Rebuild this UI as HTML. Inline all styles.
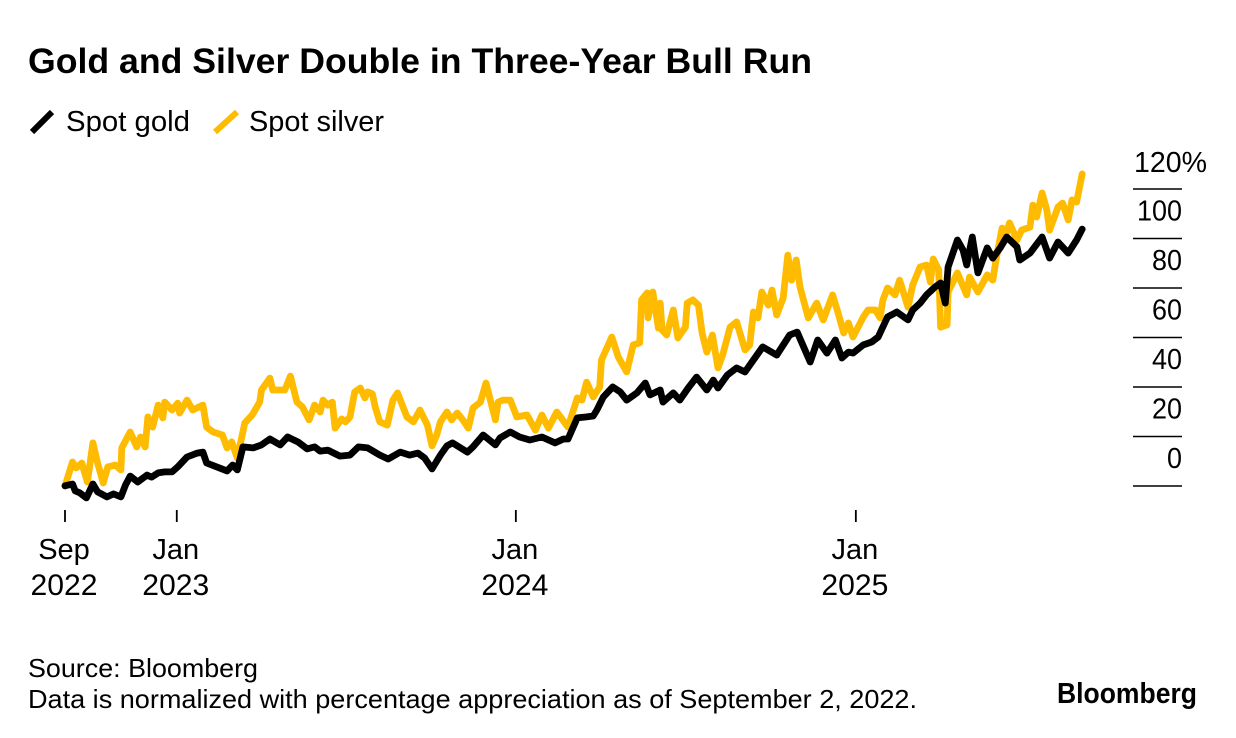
<!DOCTYPE html>
<html lang="en">
<head>
<meta charset="utf-8">
<title>Gold and Silver Double in Three-Year Bull Run</title>
<style>
html,body{margin:0;padding:0;background:#fff}
svg{display:block}
text{font-family:"Liberation Sans",sans-serif;fill:#000}
</style>
</head>
<body>
<svg id="chart" xmlns="http://www.w3.org/2000/svg" width="1236" height="738" viewBox="0 0 1236 738">
<text x="28" y="73" font-size="35" font-weight="700" textLength="784" lengthAdjust="spacingAndGlyphs">Gold and Silver Double in Three-Year Bull Run</text>
<g>
<line x1="32" y1="132" x2="52" y2="112" stroke="#000" stroke-width="6"/>
<text x="66" y="131" font-size="28.5" textLength="124" lengthAdjust="spacingAndGlyphs">Spot gold</text>
<line x1="215" y1="132" x2="237" y2="112" stroke="#ffbb00" stroke-width="6"/>
<text x="249" y="131" font-size="28.5" textLength="135" lengthAdjust="spacingAndGlyphs">Spot silver</text>
</g>
<g id="y-axis"></g>
<g id="x-axis"></g>
<g id="series"></g>
<text x="28" y="677" font-size="26" textLength="230" lengthAdjust="spacingAndGlyphs">Source: Bloomberg</text>
<text x="28" y="708" font-size="26" textLength="889" lengthAdjust="spacingAndGlyphs">Data is normalized with percentage appreciation as of September 2, 2022.</text>
<text x="1057" y="703" font-size="29" font-weight="700" textLength="140" lengthAdjust="spacingAndGlyphs">Bloomberg</text>
</svg>
<script>
const yTickValues = [0, 20, 40, 60, 80, 100, 120];
const yTickLabels = ['0', '20', '40', '60', '80', '100', '120%'];
const xTickDays = [0, 120, 484, 849];
const xTickMonths = ['Sep', 'Jan', 'Jan', 'Jan'];
const xTickYears = ['2022', '2023', '2024', '2025'];

const silverDays = [0,8,12,18,24,30,35,41,46,54,60,61,70,77,81,86,89,94,100,105,107,115,121,123,131,137,148,152,159,169,174,179,185,193,201,209,211,220,223,236,242,249,255,262,268,274,277,282,287,290,297,301,306,311,317,322,325,330,333,338,346,352,357,367,374,381,389,394,399,403,410,415,421,427,433,438,446,452,462,465,470,478,485,496,505,512,519,528,540,550,555,560,567,574,576,587,594,603,610,617,619,625,626,631,637,639,641,646,653,658,666,668,674,680,684,689,695,701,706,714,721,730,735,739,744,748,755,759,764,771,776,780,785,789,798,807,814,824,830,836,841,846,857,862,870,875,878,883,891,896,905,910,918,925,929,932,938,940,947,948,958,968,971,980,990,996,1000,1006,1009,1014,1022,1027,1036,1039,1043,1049,1054,1057,1066,1071,1077,1081,1086,1092];
const silverValues = [0,9.7,7.3,9.3,1.6,17.4,9.3,1.2,7.7,8.5,6.5,15.4,21.8,15.8,19.8,15.8,27.9,23.8,32.7,27.5,33.9,30.7,33.5,29.5,34.7,30.7,32.7,23.8,21.8,20.6,15.4,17.8,11.3,25.5,28.7,33.9,38.8,43.6,38.8,38.8,44.4,33.9,31.9,26.7,32.7,29.9,34.7,32.7,33.9,23.4,27.1,25.9,27.9,38,39.6,35.6,38,37.2,31.9,25.9,24.6,34.7,37.6,27.9,25.9,30.7,24.6,16.2,20.6,25.9,29.9,26.7,29.5,26.7,23.4,31.5,33.9,41.6,26.7,33.9,34.7,34.7,27.9,28.7,22.6,28.7,23.4,29.9,23.8,35.6,34.7,42,36,40,50.9,60.2,52.1,46.1,57,57.8,75.2,78,67.9,78.4,63.8,73.9,63,61,71.1,59.8,64.2,73.9,75.2,73.1,61.8,54.1,61,47.7,52.9,64.2,66.3,55,57,70.3,67.9,78.4,73.1,79.2,69.1,76,93.3,83.2,91.3,80.4,67.9,73.9,67.1,77.2,69.9,61.8,65.9,60.2,68.3,71.1,71.1,67.9,75.2,80,77.2,83.2,72.3,81.2,88.5,89.3,82.4,91.7,87.3,64.2,65.1,78.4,86.1,77.2,84.4,78.4,85.3,83.2,92.5,104.2,100.2,106.3,99.4,103.4,104.6,113.5,108.7,118.4,111.5,103.4,112.7,114.3,107.5,115.6,114.7,126.1];

const goldDays = [0,8,11,16,23,30,35,45,52,60,65,70,78,88,93,100,107,115,121,131,142,148,152,163,174,180,185,191,202,211,220,231,239,250,260,268,274,282,295,306,315,325,338,347,360,370,379,386,394,403,410,416,432,438,449,462,467,478,488,499,512,526,535,540,550,560,567,571,578,588,596,603,614,623,628,639,642,653,660,669,678,689,696,701,711,721,730,739,749,764,778,786,800,808,818,827,834,841,846,857,866,873,883,893,905,910,918,925,934,940,945,948,958,964,968,974,980,990,996,1004,1011,1022,1025,1036,1049,1057,1066,1077,1086,1092];
const goldValues = [0.1,0.8,-2,-2.8,-4.8,0.8,-2.4,-4.4,-3.2,-4.4,0.4,4,1.6,4.4,3.6,5.3,5.7,5.7,7.7,11.7,13.3,13.7,9.3,7.7,6.1,8.5,6.5,15.8,15.4,16.6,19,16.6,19.8,17.8,15,15.8,14.1,14.5,12.1,12.5,15.8,15.4,12.5,10.9,13.7,12.5,13.3,11.3,6.9,12.5,16.2,17.4,13.7,15.8,20.6,16.6,19.4,21.8,19.8,18.6,19.8,17.4,19,19,27.5,27.9,28.3,30.7,36,40,38,34.7,37.6,41.6,36.8,38.8,33.9,37.6,34.7,39.6,44,38.8,42.8,39.6,44.8,47.7,46.1,50.9,56.2,52.9,61,62.2,50.1,59,53.7,59,51.7,54.1,53.7,57,58.2,60.2,68.3,70.3,67.1,71.1,73.9,77.2,80.4,82,73.9,88.5,99.4,95.4,89.3,100.6,86.1,96.2,92.1,96.2,100.6,96.6,91.3,94.1,100.6,92.1,98.6,94.1,99.4,103.8];

const NS = 'http://www.w3.org/2000/svg';
function xScale(day) { return 65 + day * 0.9315; }
function yScale(value) { return 486 - value * 2.475; }
function pathFrom(days, values) {
  return days.map(function (d, i) {
    return (i ? 'L' : 'M') + xScale(d).toFixed(1) + ' ' + yScale(values[i]).toFixed(1);
  }).join('');
}
function make(tag, attrs, parent, content) {
  const el = document.createElementNS(NS, tag);
  Object.keys(attrs).forEach(function (k) { el.setAttribute(k, attrs[k]); });
  if (content !== undefined) el.textContent = content;
  parent.appendChild(el);
  return el;
}

const yAxis = document.getElementById('y-axis');
yTickValues.forEach(function (v, i) {
  const y = yScale(v);
  const grid = make('line', { x1: 1133, x2: 1182, y1: y, y2: y, stroke: '#000', 'stroke-width': 1.6 }, yAxis);
  
  
  const isTop = i === yTickValues.length - 1;
  const labelWidth = isTop ? 73 : yTickLabels[i].length * 15;
  const attrs = isTop
    ? { x: 1134, y: y - 17, 'font-size': 29, textLength: labelWidth, lengthAdjust: 'spacingAndGlyphs' }
    : { x: 1182, y: y - 18, 'font-size': 29, 'text-anchor': 'end', textLength: labelWidth, lengthAdjust: 'spacingAndGlyphs' };
  const label = make('text', attrs, yAxis, yTickLabels[i]);
  
  
});

const xAxis = document.getElementById('x-axis');
xTickDays.forEach(function (d, i) {
  const x = xScale(d);
  const tick = make('line', { x1: x, x2: x, y1: 510, y2: 522, stroke: '#000', 'stroke-width': 1.8 }, xAxis);
  
  
  const month = make('text', { x: x - 1, y: 559, 'font-size': 29, 'text-anchor': 'middle' }, xAxis, xTickMonths[i]);
  
  
  const year = make('text', { x: x - 1, y: 595, 'font-size': 29.5, 'text-anchor': 'middle', textLength: 67, lengthAdjust: 'spacingAndGlyphs' }, xAxis, xTickYears[i]);
  
  
});

const seriesGroup = document.getElementById('series');
const silverLine = make('path', { d: pathFrom(silverDays, silverValues), fill: 'none', stroke: '#ffbb00', 'stroke-width': 6.8, 'stroke-linejoin': 'round', 'stroke-linecap': 'round' }, seriesGroup);


const goldLine = make('path', { d: pathFrom(goldDays, goldValues), fill: 'none', stroke: '#000', 'stroke-width': 6.8, 'stroke-linejoin': 'round', 'stroke-linecap': 'round' }, seriesGroup);


</script>
</body>
</html>
